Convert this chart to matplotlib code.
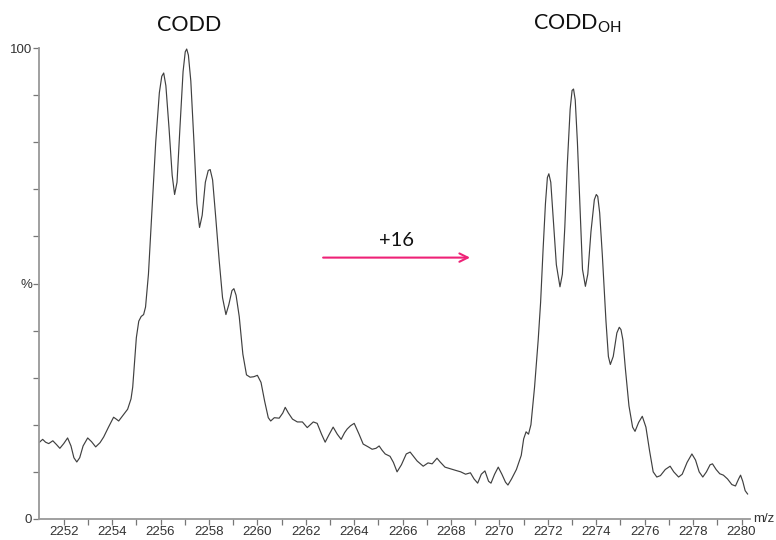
import matplotlib
matplotlib.use("Agg")
import matplotlib.pyplot as plt
import matplotlib.ticker as ticker

# Spectrum trace: m/z and relative intensity (%)
mz = [
    2251.0, 2251.13, 2251.25, 2251.38, 2251.55, 2251.7, 2251.84, 2252.0, 2252.16, 2252.3,
    2252.42, 2252.54, 2252.66, 2252.8, 2252.99, 2253.15, 2253.32, 2253.5, 2253.65, 2253.85,
    2254.06, 2254.17, 2254.27, 2254.45, 2254.64, 2254.78, 2254.85, 2254.92, 2255.0, 2255.1,
    2255.2, 2255.3, 2255.38, 2255.5, 2255.65, 2255.8, 2255.95, 2256.05, 2256.13, 2256.22,
    2256.35, 2256.48, 2256.58, 2256.68, 2256.8, 2256.93, 2257.02, 2257.08, 2257.15, 2257.25,
    2257.38, 2257.5, 2257.61, 2257.72, 2257.85, 2257.97, 2258.05, 2258.15, 2258.28, 2258.42,
    2258.56, 2258.7, 2258.82, 2258.95, 2259.03, 2259.12, 2259.25, 2259.4, 2259.55, 2259.7,
    2259.85, 2260.0, 2260.15, 2260.3, 2260.45, 2260.55, 2260.7, 2260.9, 2261.05, 2261.15,
    2261.28, 2261.45, 2261.65, 2261.86, 2262.06, 2262.31, 2262.47, 2262.65, 2262.8, 2262.95,
    2263.13, 2263.3, 2263.46, 2263.6, 2263.71, 2263.85, 2264.0, 2264.2, 2264.37, 2264.58,
    2264.74, 2264.9, 2265.03, 2265.15, 2265.28, 2265.48, 2265.62, 2265.77, 2265.95, 2266.15,
    2266.31, 2266.45, 2266.6, 2266.85, 2267.05, 2267.22, 2267.42, 2267.55, 2267.75, 2268.0,
    2268.2, 2268.4, 2268.6, 2268.8, 2268.95, 2269.1, 2269.25, 2269.4, 2269.55, 2269.65,
    2269.8, 2269.95, 2270.1, 2270.25, 2270.35, 2270.5, 2270.7, 2270.9, 2271.0, 2271.1,
    2271.2, 2271.3, 2271.45, 2271.6, 2271.7, 2271.8, 2271.9, 2271.98, 2272.04, 2272.12,
    2272.22, 2272.35, 2272.5, 2272.6, 2272.7, 2272.8, 2272.92, 2273.0, 2273.06, 2273.13,
    2273.22, 2273.32, 2273.43, 2273.55, 2273.65, 2273.78, 2273.92, 2274.0, 2274.06, 2274.14,
    2274.25, 2274.4, 2274.5, 2274.58, 2274.7, 2274.85, 2274.95, 2275.02, 2275.1, 2275.2,
    2275.35, 2275.5, 2275.6, 2275.75, 2275.9, 2276.05, 2276.2, 2276.35, 2276.5, 2276.65,
    2276.85, 2277.05, 2277.2, 2277.4, 2277.55, 2277.75, 2277.95, 2278.1, 2278.25, 2278.4,
    2278.55, 2278.7, 2278.8, 2278.95, 2279.1, 2279.25, 2279.42, 2279.6, 2279.75, 2279.88,
    2279.96, 2280.05, 2280.15, 2280.25,
]
intensity = [
    16.3, 16.9, 16.3, 16.0, 16.6, 15.8, 15.0, 16.0, 17.2, 15.5,
    13.0, 12.1, 13.0, 15.5, 17.2, 16.4, 15.3, 16.2, 17.4, 19.5,
    21.6, 21.2, 20.8, 22.0, 23.3, 25.5, 28.0, 33.0, 38.5, 42.0,
    43.0, 43.4, 45.0, 52.0, 66.0, 80.0, 90.5, 94.0, 94.7, 92.0,
    83.0, 73.0, 68.9, 71.5, 83.0, 95.0, 99.2, 99.8, 98.5, 93.0,
    80.0, 67.0, 61.9, 64.5, 71.5, 74.0, 74.2, 72.0, 64.0, 55.0,
    47.0, 43.4, 45.5, 48.5, 48.9, 47.5, 43.0, 35.0, 30.6, 30.1,
    30.2, 30.5, 29.0, 25.0, 21.5, 20.8, 21.5, 21.4, 22.5, 23.7,
    22.5, 21.2, 20.6, 20.6, 19.4, 20.6, 20.3, 18.0, 16.3, 17.8,
    19.5, 18.0, 16.9, 18.3, 19.1, 19.8, 20.3, 18.0, 15.9, 15.3,
    14.8, 15.0, 15.5, 14.6, 13.8, 13.3, 12.0, 10.0, 11.5, 13.8,
    14.2, 13.3, 12.3, 11.2, 11.9, 11.7, 12.9, 12.1, 11.0, 10.6,
    10.3, 10.0, 9.5, 9.8, 8.5, 7.6, 9.5, 10.2, 8.0, 7.6,
    9.5, 11.0, 9.5, 7.8, 7.2, 8.5, 10.5, 13.5, 17.0, 18.5,
    18.0, 20.0, 28.0, 38.0, 46.0, 57.0, 67.0, 72.5, 73.3, 71.5,
    64.0, 54.0, 49.3, 52.0, 62.0, 75.0, 87.0, 91.0, 91.3, 89.0,
    80.0, 67.0, 53.0, 49.4, 52.0, 61.0, 67.8, 68.9, 68.5, 65.0,
    56.0, 42.0, 34.5, 32.8, 34.5, 39.5, 40.7, 40.2, 38.0, 32.0,
    24.0, 19.5, 18.6, 20.5, 21.8, 19.5, 14.5, 10.0, 8.9, 9.2,
    10.5, 11.2, 10.0, 8.9, 9.5, 12.0, 13.8, 12.5, 10.0, 8.9,
    10.0, 11.5, 11.7, 10.5, 9.6, 9.3, 8.5, 7.3, 7.0, 8.5,
    9.3, 8.0, 6.0, 5.3,
]

# Mass shift annotation (start, end m/z) and its height
shift_start = 2262.6
shift_end = 2268.9
shift_level = 55.5
shift_label = "+16"

major_ticks = list(range(2252, 2281, 2))
minor_ticks = list(range(2253, 2280, 2))
y_labels = {0: "0", 50: "%", 100: "100"}

fig = plt.figure(figsize=(7.76, 5.4), dpi=100)
ax = fig.add_axes([0.0503, 0.039, 0.9162, 0.872])

ax.plot(mz, intensity, color="#404040", linewidth=0.85)

ax.set_xlim(2250.98, 2280.35)
ax.set_ylim(0, 100)

# x ticks: labelled even masses, bare odd ones
ax.xaxis.set_major_locator(ticker.FixedLocator(major_ticks))
ax.xaxis.set_minor_locator(ticker.FixedLocator(minor_ticks))
ax.yaxis.set_major_locator(ticker.FixedLocator(list(y_labels.keys())))
ax.yaxis.set_minor_locator(ticker.FixedLocator([v for v in range(10, 100, 10) if v != 50]))
ax.set_yticklabels(list(y_labels.values()))

for spine in ("top", "right"):
    ax.spines[spine].set_visible(False)
for spine in ("left", "bottom"):
    ax.spines[spine].set_color("#999999")
    ax.spines[spine].set_linewidth(1.3)

ax.tick_params(which="both", direction="out", length=4, width=0.9, color="#777777",
               labelsize=9.5, labelcolor="#333333", pad=1)
for lbl in ax.get_xticklabels() + ax.get_yticklabels():
    lbl.set_fontfamily("Liberation Sans")

ax.text(1.004, 0.0, "m/z", transform=ax.transAxes, ha="left", va="center",
        fontsize=9.5, color="#333333", family="Liberation Sans")

# Species labels above the two clusters
ax.text(2257.2, 102.8, "CODD", ha="center", va="bottom", fontsize=15.5,
        family="Lato", color="#111111", clip_on=False)
ax.text(2273.2, 102.8, r"CODD$_{\mathregular{OH}}$", ha="center", va="bottom",
        fontsize=15.5, family="Lato", color="#111111", clip_on=False)

ax.annotate("", xy=(shift_end, shift_level), xytext=(shift_start, shift_level),
            arrowprops=dict(arrowstyle="->", color="#EE2277", lw=1.5,
                            mutation_scale=15))
ax.text((shift_start + shift_end) / 2, shift_level + 1.8, shift_label,
        ha="center", va="bottom", fontsize=14.5, family="Lato", color="#111111")

fig.savefig("out.png", dpi=100)
